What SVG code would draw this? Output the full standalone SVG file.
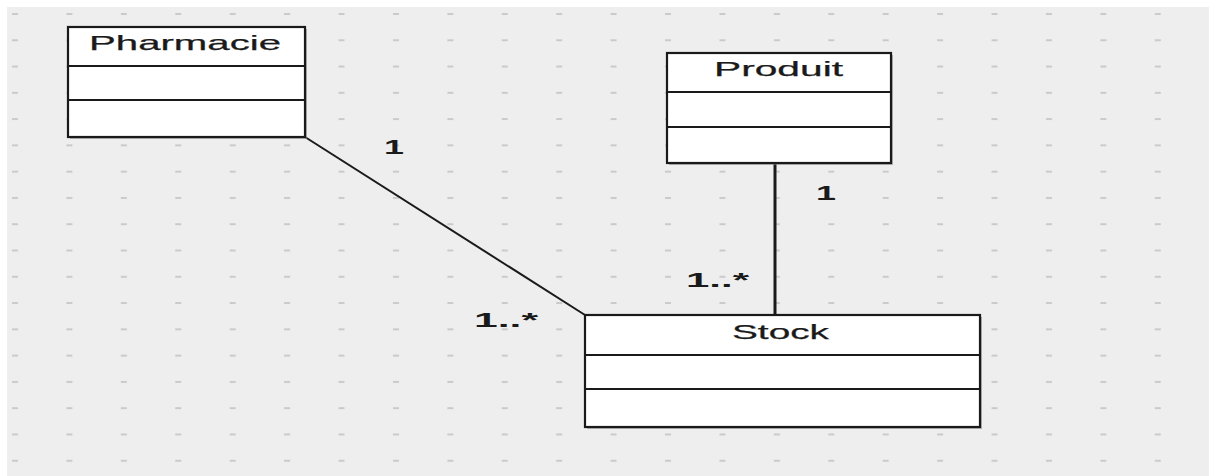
<svg xmlns="http://www.w3.org/2000/svg" width="1209" height="476" viewBox="0 0 1209 476">
  <defs>
    <pattern id="grid" patternUnits="userSpaceOnUse" x="12" y="13" width="54.42" height="26.28">
      <rect x="0" y="0" width="6" height="2" fill="#cacaca"/>
    </pattern>
    <style>
      .shadow { fill: #8a8a8a; opacity: 0.6; }
      .box { fill: #ffffff; stroke: #1a1a1a; stroke-width: 2.2; }
      .div { stroke: #1a1a1a; stroke-width: 1.8; }
      .title { font-family: "Liberation Sans", Arial, sans-serif; font-size: 21px; fill: #1a1a1a; stroke: #1a1a1a; stroke-width: 0.25; }
      .mult { font-family: "Liberation Sans", Arial, sans-serif; font-size: 21px; fill: #1a1a1a; font-weight: bold; }
      .conn { stroke: #1a1a1a; fill: none; }
    </style>
  </defs>
  <rect x="0" y="0" width="1209" height="476" fill="#ffffff"/>
  <rect x="7" y="7" width="1202" height="469" fill="#eeeeee"/>
  <rect x="7" y="7" width="1202" height="469" fill="url(#grid)"/>

  <g id="connectors">
    <line class="conn" x1="305" y1="137" x2="585" y2="315" stroke-width="2"/>
    <line class="conn" x1="775" y1="163" x2="775" y2="315" stroke-width="3"/>
    <text class="mult" x="384" y="154" textLength="20" lengthAdjust="spacingAndGlyphs">1</text>
    <text class="mult" x="816" y="200" textLength="20" lengthAdjust="spacingAndGlyphs">1</text>
    <text class="mult" x="686" y="287" textLength="63" lengthAdjust="spacingAndGlyphs">1..*</text>
    <text class="mult" x="474" y="327" textLength="64" lengthAdjust="spacingAndGlyphs">1..*</text>
  </g>

  <g id="pharmacie">
    <rect class="shadow" x="70" y="29" width="237" height="110"/>
    <rect class="box" x="68" y="27" width="237" height="110"/>
    <line class="div" x1="68" y1="66" x2="305" y2="66"/>
    <line class="div" x1="68" y1="100" x2="305" y2="100"/>
    <text class="title" x="89" y="50" textLength="192" lengthAdjust="spacingAndGlyphs">Pharmacie</text>
  </g>

  <g id="produit">
    <rect class="shadow" x="669" y="55" width="224" height="110"/>
    <rect class="box" x="667" y="53" width="224" height="110"/>
    <line class="div" x1="667" y1="92" x2="891" y2="92"/>
    <line class="div" x1="667" y1="127" x2="891" y2="127"/>
    <text class="title" x="714" y="76" textLength="129" lengthAdjust="spacingAndGlyphs">Produit</text>
  </g>

  <g id="stock">
    <rect class="shadow" x="587" y="317" width="395" height="112"/>
    <rect class="box" x="585" y="315" width="395" height="112"/>
    <line class="div" x1="585" y1="355" x2="980" y2="355"/>
    <line class="div" x1="585" y1="389" x2="980" y2="389"/>
    <text class="title" x="732" y="339" textLength="97" lengthAdjust="spacingAndGlyphs">Stock</text>
  </g>
</svg>
